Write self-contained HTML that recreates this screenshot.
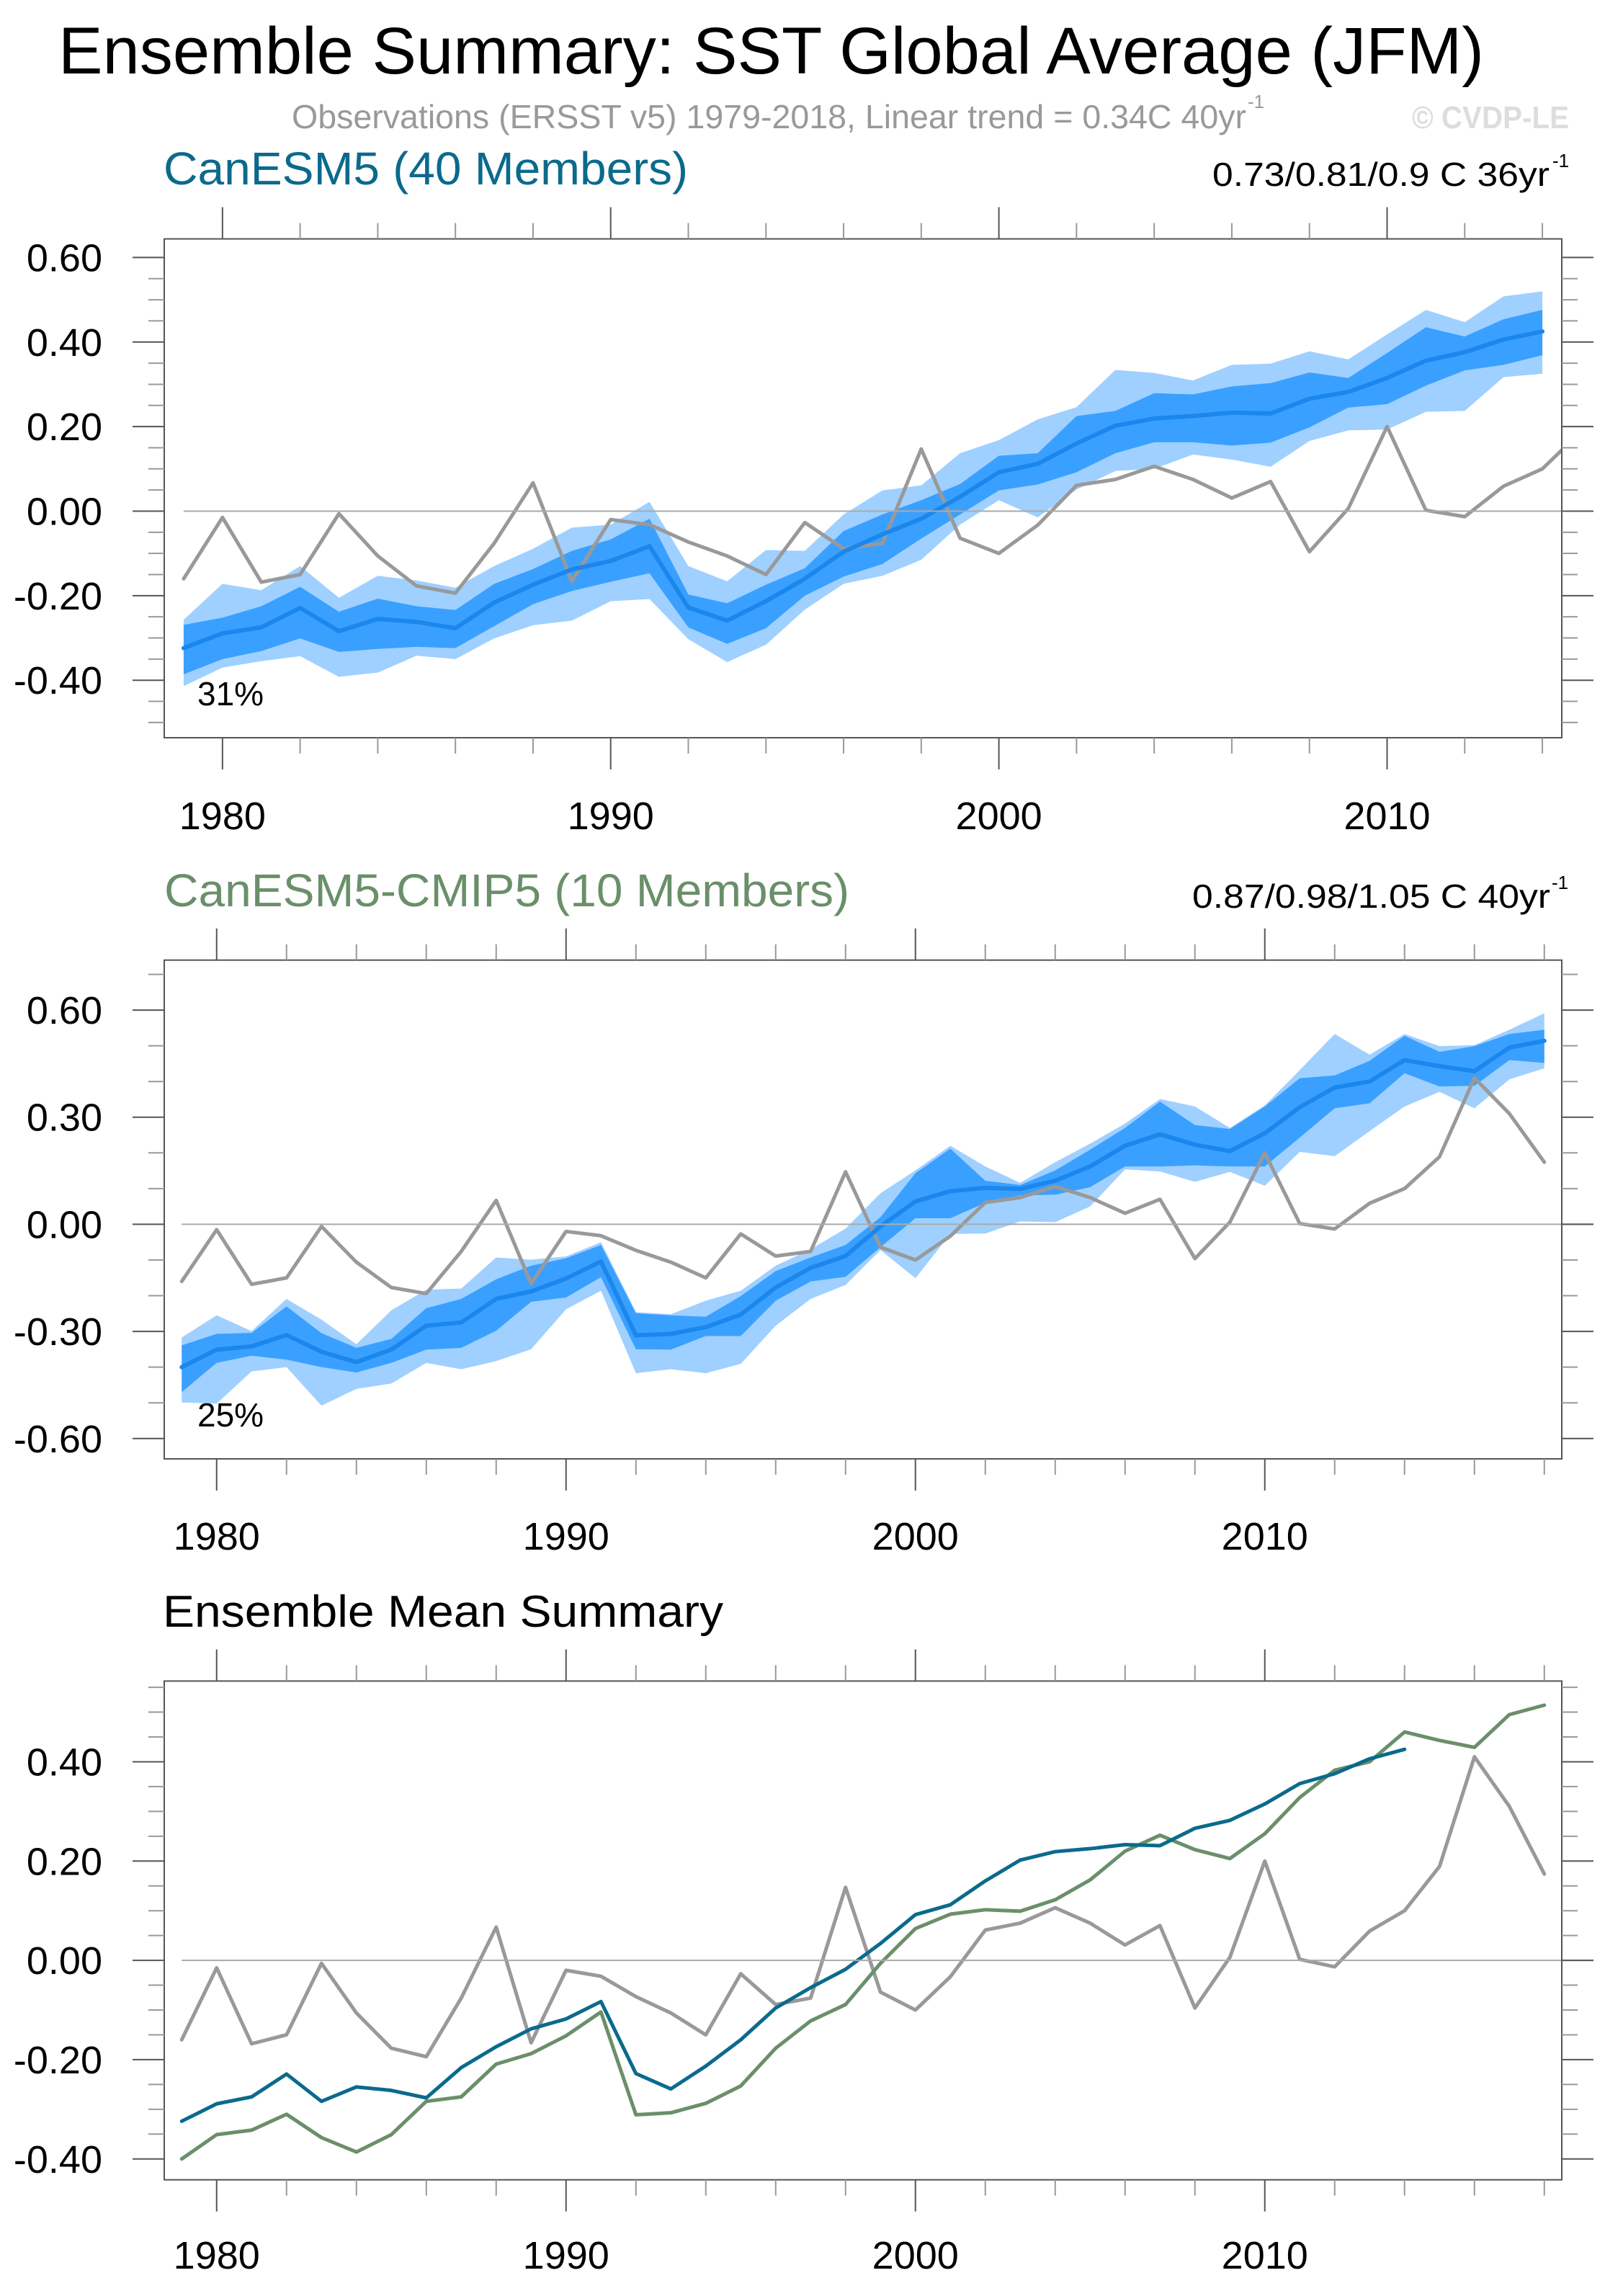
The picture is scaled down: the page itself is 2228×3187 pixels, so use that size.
<!DOCTYPE html>
<html><head><meta charset="utf-8">
<style>
html,body{margin:0;padding:0;background:#fff;}
svg{display:block;font-family:"Liberation Sans",sans-serif;}
</style></head>
<body>
<svg id="chart" width="2228" height="3187" viewBox="0 0 2228 3187" xmlns="http://www.w3.org/2000/svg">
<text x="81" y="102" font-size="92" textLength="1979" lengthAdjust="spacingAndGlyphs" fill="#000">Ensemble Summary: SST Global Average (JFM)</text>
<text x="405" y="178" font-size="46" textLength="1325" lengthAdjust="spacingAndGlyphs" fill="#999">Observations (ERSST v5) 1979-2018, Linear trend = 0.34C 40yr</text>
<text x="1732" y="150" font-size="26" fill="#999">-1</text>
<text x="1960" y="178" font-size="44" font-weight="bold" textLength="218" lengthAdjust="spacingAndGlyphs" fill="#ddd">© CVDP-LE</text>
<text x="227" y="256" font-size="64" textLength="728" lengthAdjust="spacingAndGlyphs" fill="#0b6a8c">CanESM5 (40 Members)</text>
<text x="1683" y="258" font-size="46" textLength="468" lengthAdjust="spacingAndGlyphs" fill="#000">0.73/0.81/0.9 C 36yr</text>
<text x="2155" y="232" font-size="26" fill="#000">-1</text>
<text x="228" y="1258" font-size="64" textLength="951" lengthAdjust="spacingAndGlyphs" fill="#6a8f6a">CanESM5-CMIP5 (10 Members)</text>
<text x="1655" y="1260" font-size="46" textLength="497" lengthAdjust="spacingAndGlyphs" fill="#000">0.87/0.98/1.05 C 40yr</text>
<text x="2154" y="1234" font-size="26" fill="#000">-1</text>
<text x="226" y="2258" font-size="62" textLength="778" lengthAdjust="spacingAndGlyphs" fill="#000">Ensemble Mean Summary</text>
<text x="274" y="979" font-size="46" fill="#000">31%</text>
<text x="274" y="1980" font-size="46" fill="#000">25%</text>
</svg>
<script>
const years1 = [1979,1980,1981,1982,1983,1984,1985,1986,1987,1988,1989,1990,1991,1992,1993,1994,1995,1996,1997,1998,1999,2000,2001,2002,2003,2004,2005,2006,2007,2008,2009,2010,2011,2012,2013,2014];
const years2 = [1979,1980,1981,1982,1983,1984,1985,1986,1987,1988,1989,1990,1991,1992,1993,1994,1995,1996,1997,1998,1999,2000,2001,2002,2003,2004,2005,2006,2007,2008,2009,2010,2011,2012,2013,2014,2015,2016,2017,2018];
const obs = [-0.16,-0.015,-0.168,-0.15,-0.006,-0.106,-0.177,-0.194,-0.076,0.067,-0.166,-0.02,-0.032,-0.073,-0.106,-0.15,-0.027,-0.089,-0.076,0.147,-0.064,-0.1,-0.033,0.061,0.075,0.106,0.075,0.031,0.07,-0.096,0.006,0.2,0.002,-0.013,0.059,0.1,0.189,0.41,0.31,0.174];
const p1Mean = [-0.324,-0.289,-0.275,-0.229,-0.284,-0.255,-0.262,-0.277,-0.216,-0.174,-0.138,-0.118,-0.083,-0.228,-0.259,-0.213,-0.16,-0.096,-0.055,-0.018,0.034,0.092,0.112,0.16,0.202,0.219,0.225,0.233,0.231,0.266,0.282,0.315,0.356,0.376,0.406,0.425];
const p1DarkHi = [-0.269,-0.252,-0.225,-0.179,-0.238,-0.207,-0.225,-0.234,-0.172,-0.137,-0.094,-0.067,-0.018,-0.197,-0.218,-0.174,-0.135,-0.047,-0.008,0.026,0.064,0.131,0.137,0.225,0.237,0.279,0.276,0.295,0.303,0.328,0.315,0.374,0.435,0.413,0.454,0.476];
const p1DarkLo = [-0.386,-0.35,-0.331,-0.301,-0.333,-0.326,-0.321,-0.324,-0.272,-0.22,-0.189,-0.167,-0.147,-0.275,-0.314,-0.277,-0.2,-0.155,-0.125,-0.065,-0.008,0.049,0.063,0.092,0.137,0.163,0.163,0.155,0.162,0.198,0.245,0.253,0.297,0.333,0.346,0.369];
const p1LightHi = [-0.257,-0.172,-0.187,-0.13,-0.205,-0.153,-0.164,-0.181,-0.13,-0.089,-0.039,-0.032,0.022,-0.13,-0.166,-0.092,-0.094,-0.008,0.049,0.061,0.137,0.168,0.217,0.246,0.334,0.327,0.309,0.346,0.349,0.378,0.359,0.418,0.476,0.447,0.508,0.52];
const p1LightLo = [-0.414,-0.37,-0.355,-0.343,-0.392,-0.382,-0.342,-0.35,-0.301,-0.27,-0.259,-0.213,-0.208,-0.303,-0.357,-0.316,-0.233,-0.172,-0.153,-0.115,-0.032,0.026,-0.015,0.051,0.095,0.1,0.134,0.122,0.105,0.166,0.191,0.193,0.235,0.237,0.317,0.325];
const p2Mean = [-0.4,-0.351,-0.342,-0.31,-0.357,-0.386,-0.351,-0.284,-0.275,-0.209,-0.188,-0.152,-0.104,-0.311,-0.307,-0.288,-0.253,-0.177,-0.122,-0.089,-0.006,0.064,0.093,0.102,0.099,0.122,0.162,0.22,0.252,0.223,0.205,0.255,0.328,0.383,0.4,0.46,0.443,0.429,0.495,0.514];
const p2DarkHi = [-0.339,-0.307,-0.304,-0.23,-0.305,-0.346,-0.321,-0.235,-0.209,-0.154,-0.116,-0.095,-0.058,-0.249,-0.255,-0.259,-0.201,-0.131,-0.093,-0.058,0.02,0.143,0.212,0.122,0.11,0.151,0.209,0.27,0.344,0.278,0.267,0.33,0.409,0.417,0.458,0.528,0.483,0.499,0.533,0.545];
const p2DarkLo = [-0.47,-0.388,-0.368,-0.379,-0.4,-0.415,-0.388,-0.351,-0.346,-0.298,-0.217,-0.205,-0.148,-0.35,-0.351,-0.313,-0.313,-0.214,-0.16,-0.147,-0.064,0.017,0.017,0.06,0.081,0.083,0.104,0.162,0.162,0.165,0.162,0.162,0.243,0.325,0.339,0.423,0.386,0.388,0.46,0.452];
const p2LightHi = [-0.317,-0.255,-0.299,-0.209,-0.267,-0.336,-0.241,-0.183,-0.18,-0.093,-0.099,-0.09,-0.05,-0.246,-0.252,-0.214,-0.186,-0.116,-0.07,-0.012,0.087,0.151,0.22,0.162,0.116,0.174,0.226,0.282,0.351,0.33,0.27,0.333,0.432,0.533,0.475,0.533,0.499,0.502,0.545,0.591];
const p2LightLo = [-0.499,-0.502,-0.412,-0.4,-0.508,-0.461,-0.446,-0.388,-0.406,-0.383,-0.35,-0.238,-0.186,-0.417,-0.406,-0.417,-0.391,-0.284,-0.209,-0.17,-0.072,-0.151,-0.027,-0.026,0.008,0.006,0.05,0.154,0.148,0.119,0.147,0.108,0.203,0.191,0.261,0.33,0.371,0.325,0.406,0.437];
const p1YTicks = ["0.60","0.40","0.20","0.00","-0.20","-0.40"];
const p2YTicks = ["0.60","0.30","0.00","-0.30","-0.60"];
const p3YTicks = ["0.40","0.20","0.00","-0.20","-0.40"];
const xTickLabels = ["1980","1990","2000","2010"];

const NS = "http://www.w3.org/2000/svg";
const svg = document.getElementById('chart');
function mk(tag, attrs, parent){ const e=document.createElementNS(NS,tag); for(const k in attrs) e.setAttribute(k,attrs[k]); (parent||svg).appendChild(e); return e; }

const L=228, R=2168;
function panel(cfg){
  const xs = v => L + (v-cfg.x0)/(cfg.x1-cfg.x0)*(R-L);
  const ys = v => cfg.bot - (v-cfg.y0)/(cfg.y1-cfg.y0)*(cfg.bot-cfg.top);
  const g = mk('g',{});
  
  
  const cid = cfg.name+'-clip';
  const cp = mk('clipPath',{id:cid},g);
  mk('rect',{x:L,y:cfg.top,width:R-L,height:cfg.bot-cfg.top},cp);
  const plot = mk('g',{'clip-path':'url(#'+cid+')'},g);
  // zero line
  const zl = mk('line',{x1:xs(1979),x2:R+44,y1:ys(0),y2:ys(0),stroke:'#aaa','stroke-width':2},g);
  
  
  function band(yrs, hi, lo, color, nm){
    let d='M'+yrs.map((y,i)=>xs(y)+','+ys(hi[i])).join(' L');
    d+=' L'+yrs.map((y,i)=>[y,i]).reverse().map(([y,i])=>xs(y)+','+ys(lo[i])).join(' L')+' Z';
    const p=mk('path',{d:d,fill:color},plot);
    
    
  }
  function line(yrs, vals, color, w, nm){
    const d='M'+yrs.map((y,i)=>xs(y)+','+ys(vals[i])).join(' L');
    const p=mk('path',{d:d,fill:'none',stroke:color,'stroke-width':w,'stroke-linejoin':'round','stroke-linecap':'round'},plot);
    
    
  }
  if(cfg.bands){ cfg.bands.forEach(b=>band(b.yrs,b.hi,b.lo,b.color,b.name)); }
  cfg.lines.forEach(l=>line(l.yrs,l.vals,l.color,l.w,l.name));
  // frame
  const fr = mk('rect',{x:L,y:cfg.top,width:R-L,height:cfg.bot-cfg.top,fill:'none',stroke:'#555','stroke-width':2},g);
  
  
  // x ticks
  for(let yr=1980; yr<=cfg.xmaxTick; yr+=2){
    const x=xs(yr), major=(yr%10===0), len=major?44:22, col=major?'#555':'#999';
    mk('line',{x1:x,x2:x,y1:cfg.top,y2:cfg.top-len,stroke:col,'stroke-width':2},g);
    mk('line',{x1:x,x2:x,y1:cfg.bot,y2:cfg.bot+len,stroke:col,'stroke-width':2},g);
  }
  xTickLabels.forEach(t=>{
    const tx=mk('text',{x:xs(+t),y:cfg.labelY,'font-size':54,'text-anchor':'middle',fill:'#000'},g);
    tx.textContent=t;
    
    
  });
  // y ticks
  const n0=Math.ceil(cfg.y0/cfg.minor-1e-6), n1=Math.floor(cfg.y1/cfg.minor+1e-6);
  for(let n=n0;n<=n1;n++){
    const v=n*cfg.minor, y=ys(v);
    const major=Math.abs(v/cfg.major-Math.round(v/cfg.major))<1e-6;
    const len=major?44:22, col=major?'#555':'#999';
    mk('line',{x1:L,x2:L-len,y1:y,y2:y,stroke:col,'stroke-width':2},g);
    mk('line',{x1:R,x2:R+len,y1:y,y2:y,stroke:col,'stroke-width':2},g);
  }
  cfg.yTicks.forEach(t=>{
    const tx=mk('text',{x:142,y:ys(+t)+19,'font-size':54,'text-anchor':'end',fill:'#000'},g);
    tx.textContent=t;
    
    
  });
}

const LIGHT='#9fd0ff', DARK='#3aa0ff', MEANC='#1b86ec', OBS='#999999';
panel({name:'canesm5-panel',x0:1978.5,x1:2014.5,y0:-0.536,y1:0.644,top:331.6,bot:1024,labelY:1151,xmaxTick:2014,minor:0.05,major:0.2,yTicks:p1YTicks,
  bands:[{yrs:years1,hi:p1LightHi,lo:p1LightLo,color:LIGHT,name:'canesm5-outer-spread'},{yrs:years1,hi:p1DarkHi,lo:p1DarkLo,color:DARK,name:'canesm5-inner-spread'}],
  lines:[{yrs:years2,vals:obs,color:OBS,w:5,name:'observations-line'},{yrs:years1,vals:p1Mean,color:MEANC,w:6,name:'canesm5-mean-line'}]});
panel({name:'cmip5-panel',x0:1978.5,x1:2018.5,y0:-0.657,y1:0.74,top:1332.7,bot:2025,labelY:2151,xmaxTick:2018,minor:0.1,major:0.3,yTicks:p2YTicks,
  bands:[{yrs:years2,hi:p2LightHi,lo:p2LightLo,color:LIGHT,name:'cmip5-outer-spread'},{yrs:years2,hi:p2DarkHi,lo:p2DarkLo,color:DARK,name:'cmip5-inner-spread'}],
  lines:[{yrs:years2,vals:obs,color:OBS,w:5,name:'observations-line'},{yrs:years2,vals:p2Mean,color:MEANC,w:6,name:'cmip5-mean-line'}]});
panel({name:'ensemble-mean-panel',x0:1978.5,x1:2018.5,y0:-0.442,y1:0.5626,top:2333.4,bot:3025.7,labelY:3149,xmaxTick:2018,minor:0.05,major:0.2,yTicks:p3YTicks,
  lines:[{yrs:years2,vals:obs,color:OBS,w:5,name:'observations-line'},{yrs:years2,vals:p2Mean,color:'#6a8f6a',w:5,name:'cmip5-mean-line'},{yrs:years1,vals:p1Mean,color:'#0b6a8c',w:5,name:'canesm5-mean-line'}]});
</script>
</body></html>
